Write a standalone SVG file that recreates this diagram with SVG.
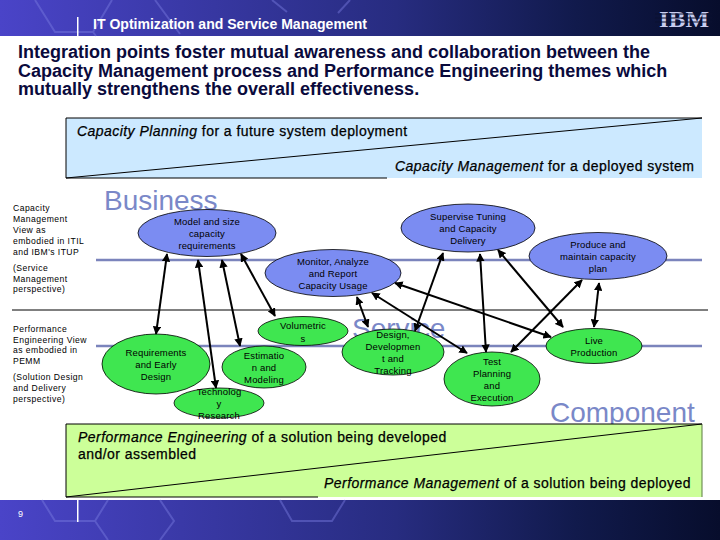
<svg xmlns="http://www.w3.org/2000/svg" width="720" height="540" viewBox="0 0 720 540">
<style>
text{font-family:"Liberation Sans",Arial,sans-serif}
.lab{font-size:9.5px;fill:#000;text-anchor:middle;letter-spacing:.15px}
.side{font-size:8.6px;fill:#000;letter-spacing:.45px}
.band{font-size:14px;fill:#000;stroke:#000;stroke-width:.25px;letter-spacing:.45px}
.bg{font-size:28px;fill:#7a88c8}
.blue{fill:#7b8cf2;stroke:#000;stroke-width:.8}
.green{fill:#3fe650;stroke:#000;stroke-width:.8}
.con line{stroke:#000;stroke-width:2;marker-start:url(#a);marker-end:url(#a)}
.hex{fill:none;stroke:#7a7ce0;stroke-opacity:.45;stroke-width:2}
</style>
<defs>
<linearGradient id="g" x1="0" x2="1" y1="0" y2="0"><stop offset="0" stop-color="#4a44c8"/><stop offset=".55" stop-color="#272c80"/><stop offset=".8" stop-color="#111a4c"/><stop offset="1" stop-color="#070d2c"/></linearGradient>
<marker id="a" viewBox="0 0 10 10" refX="9" refY="5" markerWidth="4.2" markerHeight="4.2" orient="auto-start-reverse"><path d="M0 0L10 5L0 10z" fill="#000"/></marker>
</defs>
<rect width="720" height="540" fill="#fff"/>
<g id="header">
<rect width="720" height="36" fill="url(#g)"/>
<path class="hex" d="M35 0L55 32H93L112 0M93 32L96 36M155 0L180 34M272 0L287 12M350 0L338 13"/>
<rect x="77" y="17" width="1.5" height="19" fill="#fff"/>
<text x="93" y="29" font-size="14" font-weight="700" fill="#fff" textLength="274" lengthAdjust="spacingAndGlyphs">IT Optimization and Service Management</text>
<text x="659" y="27" font-weight="700" fill="#c8cdf0" style="font-family:'Liberation Serif',serif;font-size:23px" textLength="50" lengthAdjust="spacingAndGlyphs">IBM</text>
<path d="M655 14H712M655 18H712M655 22H712" stroke="#0a1030" stroke-width="1"/>
</g>
<g id="title" font-size="18" font-weight="700" fill="#0a0a3c">
<text x="18" y="58">Integration points foster mutual awareness and collaboration between the</text>
<text x="18" y="77">Capacity Management process and Performance Engineering themes which</text>
<text x="18" y="95">mutually strengthens the overall effectiveness.</text>
</g>
<g id="capacity-band">
<rect x="66" y="118" width="636" height="60" fill="#cce9ff"/>
<path d="M66 118H702M66 178H387M66 118V178" fill="none" stroke="#000"/>
<path d="M66 178L702 118" stroke="#000" fill="none"/>
<text class="band" x="77" y="136"><tspan font-style="italic">Capacity Planning</tspan> for a future system deployment</text>
<text class="band" x="395" y="171"><tspan font-style="italic">Capacity Management</tspan> for a deployed system</text>
</g>
<g id="bg-labels">
<path d="M96 260H702M96 346H702" stroke="#7b84bc" stroke-width="2.5"/>
<path d="M12 310H708" stroke="#000"/>
<text class="bg" x="104" y="210">Business</text>
<text class="bg" x="352" y="338">Service</text>
<text class="bg" x="550" y="422">Component</text>
</g>
<g id="side-capacity" class="side">
<text x="13" y="211">Capacity</text><text x="13" y="222">Management</text><text x="13" y="233">View as</text><text x="13" y="244">embodied in ITIL</text><text x="13" y="255">and IBM's ITUP</text>
<text x="13" y="271">(Service</text><text x="13" y="282">Management</text><text x="13" y="292">perspective)</text>
</g>
<g id="side-performance" class="side">
<text x="13" y="332">Performance</text><text x="13" y="343">Engineering View</text><text x="13" y="353">as embodied in</text><text x="13" y="364">PEMM</text>
<text x="13" y="380">(Solution Design</text><text x="13" y="391">and Delivery</text><text x="13" y="402">perspective)</text>
</g>
<g id="model"><ellipse class="blue" cx="207" cy="233" rx="69" ry="23.5"/><text class="lab" x="207" y="225">Model and size</text><text class="lab" x="207" y="237">capacity</text><text class="lab" x="207" y="249">requirements</text></g>
<g id="monitor"><ellipse class="blue" cx="333" cy="273" rx="68" ry="23.5"/><text class="lab" x="333" y="265">Monitor, Analyze</text><text class="lab" x="333" y="277">and Report</text><text class="lab" x="333" y="289">Capacity Usage</text></g>
<g id="supervise"><ellipse class="blue" cx="468" cy="228" rx="67" ry="24"/><text class="lab" x="468" y="220">Supervise Tuning</text><text class="lab" x="468" y="232">and Capacity</text><text class="lab" x="468" y="244">Delivery</text></g>
<g id="produce"><ellipse class="blue" cx="598" cy="256" rx="69" ry="23.5"/><text class="lab" x="598" y="248">Produce and</text><text class="lab" x="598" y="260">maintain capacity</text><text class="lab" x="598" y="272">plan</text></g>
<g id="volumetric"><ellipse class="green" cx="303" cy="331" rx="45" ry="14.5"/><text class="lab" x="303" y="329">Volumetric</text><text class="lab" x="303" y="342">s</text></g>
<g id="requirements"><ellipse class="green" cx="156" cy="364" rx="54" ry="30"/><text class="lab" x="156" y="356">Requirements</text><text class="lab" x="156" y="368">and Early</text><text class="lab" x="156" y="380">Design</text></g>
<g id="estimation"><ellipse class="green" cx="264" cy="367" rx="42" ry="21"/><text class="lab" x="264" y="359">Estimatio</text><text class="lab" x="264" y="371">n and</text><text class="lab" x="264" y="383">Modeling</text></g>
<g id="technology"><ellipse class="green" cx="219" cy="403" rx="45" ry="15"/><text class="lab" x="219" y="395">Technolog</text><text class="lab" x="219" y="407">y</text><text class="lab" x="219" y="419">Research</text></g>
<g id="design"><ellipse class="green" cx="393" cy="352" rx="51" ry="23"/><text class="lab" x="393" y="338">Design,</text><text class="lab" x="393" y="350">Developmen</text><text class="lab" x="393" y="362">t and</text><text class="lab" x="393" y="374">Tracking</text></g>
<g id="test"><ellipse class="green" cx="492" cy="379" rx="48" ry="27"/><text class="lab" x="492" y="365">Test</text><text class="lab" x="492" y="377">Planning</text><text class="lab" x="492" y="389">and</text><text class="lab" x="492" y="401">Execution</text></g>
<g id="live"><ellipse class="green" cx="594" cy="346" rx="48" ry="17.5"/><text class="lab" x="594" y="344">Live</text><text class="lab" x="594" y="356">Production</text></g>
<g id="connectors" class="con">
<line x1="167" y1="254" x2="156" y2="334"/>
<line x1="198" y1="260" x2="216" y2="388"/>
<line x1="222" y1="260" x2="240" y2="346"/>
<line x1="241" y1="254" x2="275" y2="316"/>
<line x1="357" y1="297" x2="368" y2="327"/>
<line x1="443" y1="253" x2="415" y2="331"/>
<line x1="480" y1="254" x2="486" y2="352"/>
<line x1="498" y1="250" x2="563" y2="327"/>
<line x1="372" y1="293" x2="467" y2="353"/>
<line x1="395" y1="283" x2="551" y2="337"/>
<line x1="582" y1="280" x2="511" y2="352"/>
<line x1="599" y1="283" x2="594" y2="327"/>
</g>
<g id="performance-band">
<rect x="66" y="424" width="636" height="73" fill="#ccff99"/>
<path d="M66 424H702M66 497H318M66 424V497" fill="none" stroke="#000"/>
<path d="M702 424V497" fill="none" stroke="#5a7a40"/>
<path d="M66 497L702 424" stroke="#000" fill="none"/>
<text class="band" x="78" y="442"><tspan font-style="italic">Performance Engineering</tspan> of a solution being developed</text>
<text class="band" x="78" y="459">and/or assembled</text>
<text class="band" x="324" y="488"><tspan font-style="italic">Performance Management</tspan> of a solution being deployed</text>
</g>
<g id="footer">
<rect y="500" width="720" height="40" fill="url(#g)"/>
<path class="hex" d="M42 500L55 521H95L108 500M95 521L108 540M160 500L174 521L160 540M280 500L292 521H332L345 500"/>
<rect x="77" y="500" width="1.5" height="22" fill="#fff"/>
<text x="18" y="517" font-size="9" fill="#fff">9</text>
</g>
</svg>
